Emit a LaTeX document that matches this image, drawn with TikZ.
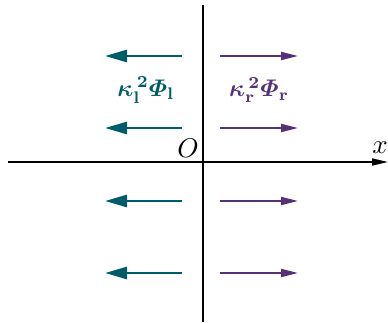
\documentclass[tikz,border=0pt]{standalone}
\usepackage{amsmath,bm}
\usetikzlibrary{arrows.meta}
\definecolor{teal1}{RGB}{0,92,104}
\definecolor{purp1}{RGB}{84,50,120}
\begin{document}
\begin{tikzpicture}[x=1pt,y=1pt,
  axis/.style={line width=2pt,black},
  larrow/.style={teal1,line width=2.8pt,-{Triangle[length=22pt,width=12pt]}},
  rarrow/.style={purp1,line width=1.8pt,-{Triangle[length=17pt,width=8pt]}}]
\useasboundingbox (0,0) rectangle (388,322);
% axes
\coordinate (vt) at (203,317);
\coordinate (vb) at (203,0);
\coordinate (hl) at (8,160);
\coordinate (hr) at (388,160);
\draw[axis,line width=2.4pt] (vb) -- (vt);
\draw[axis,line width=1.8pt,-{Triangle[length=16pt,width=7pt]}] (hl) -- (hr);
\node (O) at (188,174) {\scalebox{2.7}{$O$}};
\node (X) at (380,174) {\scalebox{2.7}{$x$}};
% arrows
\foreach \y/\n in {266/a,194/b,121/c,49/d}{
  \coordinate (ls\n) at (182,\y);
  \coordinate (le\n) at (105,\y);
  \draw[larrow] (ls\n) -- (le\n);
  \coordinate (rs\n) at (220,\y);
  \coordinate (re\n) at (298,\y);
  \draw[rarrow] (rs\n) -- (re\n);
}
\node[text=teal1] (L) at (146,232) {\scalebox{2.4}{$\boldsymbol{\kappa}_{\mathbf{l}}^{\,\mathbf{2}}\boldsymbol{\varPhi}_{\mathbf{l}}$}};
\node[text=purp1] (R) at (259,232) {\scalebox{2.4}{$\boldsymbol{\kappa}_{\mathbf{r}}^{\,\mathbf{2}}\boldsymbol{\varPhi}_{\mathbf{r}}$}};
\end{tikzpicture}
\end{document}
